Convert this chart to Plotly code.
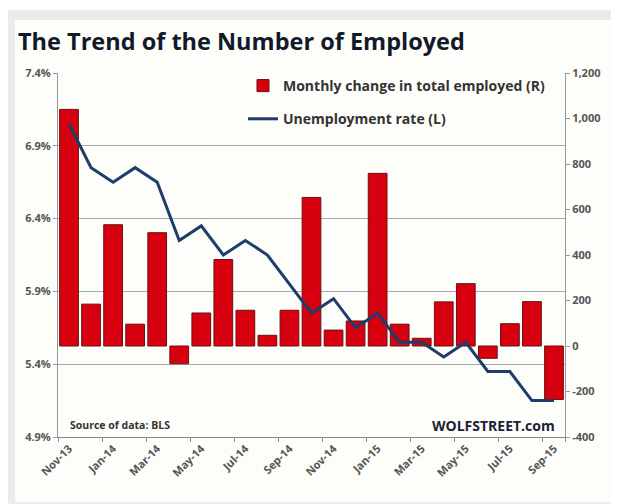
import plotly.graph_objects as go

months = ["Nov-13", "Dec-13", "Jan-14", "Feb-14", "Mar-14", "Apr-14", "May-14", "Jun-14",
          "Jul-14", "Aug-14", "Sep-14", "Oct-14", "Nov-14", "Dec-14", "Jan-15", "Feb-15",
          "Mar-15", "Apr-15", "May-15", "Jun-15", "Jul-15", "Aug-15", "Sep-15"]
employed_change = [1040, 184, 533, 96, 498, -78, 145, 380, 157, 47, 157, 653,
                   70, 110, 759, 96, 34, 194, 274, -54, 98, 195, -235]
unemployment_rate = [7.05, 6.75, 6.65, 6.75, 6.65, 6.25, 6.35, 6.15, 6.25, 6.15, 5.95, 5.75,
                     5.85, 5.65, 5.75, 5.55, 5.55, 5.45, 5.55, 5.35, 5.35, 5.15, 5.15]
tick_labels = months[::2]
left_ticks = [4.9, 5.4, 5.9, 6.4, 6.9, 7.4]
right_ticks = [-400, -200, 0, 200, 400, 600, 800, 1000, 1200]

# page body has an 8px margin; figure coordinates are offset accordingly
OFF = 8
W, H = 619, 504
FW, FH = W - OFF, H - OFF
L, R, T, B = 58, 565, 73, 437

def px(x):
    return (x - L) / (R - L)

def py(y):
    return (B - y) / (B - T)

FONT = "Open Sans"
fig = go.Figure()
fig.add_trace(go.Bar(
    x=months, y=employed_change, name="<b>Monthly change in total employed (R)</b>",
    marker=dict(color="#d7000f", line=dict(color="#6a1010", width=1)),
    yaxis="y", legendgroup="a",
))
fig.add_trace(go.Scatter(
    x=months, y=unemployment_rate, name="<b>Unemployment rate (L)</b>", mode="lines",
    line=dict(color="#1f3d6b", width=3), yaxis="y2", legendgroup="b",
))

tick_font = dict(family=FONT, size=11, color="#555")
fig.update_layout(
    width=FW, height=FH,
    margin=dict(l=L - OFF, r=W - R, t=T - OFF, b=H - B, autoexpand=False),
    paper_bgcolor="white", plot_bgcolor="rgba(0,0,0,0)",
    bargap=0.15,
    showlegend=True,
    legend=dict(x=px(243), y=py(70), xanchor="left", yanchor="top",
                bgcolor="rgba(0,0,0,0)", traceorder="grouped",
                font=dict(family=FONT, size=14, color="#333"),
                itemwidth=30, tracegroupgap=12),
    xaxis=dict(type="category", tickvals=tick_labels,
               ticktext=[f"<b>{t}</b>" for t in tick_labels],
               tickangle=-45, showline=True, linecolor="#888", linewidth=1,
               ticks="outside", tickson="boundaries", ticklen=4, tickcolor="#888",
               tickfont=dict(family=FONT, size=11, color="#555"),
               showgrid=False),
    yaxis=dict(side="right", range=[-400, 1200], tickvals=right_ticks,
               ticktext=[f"<b>{v:,}</b>" for v in right_ticks], showgrid=False,
               zeroline=False, showline=True, linecolor="#999", ticks="outside",
               ticklen=4, tickcolor="#999", tickfont=tick_font),
    yaxis2=dict(side="left", overlaying="y", range=[4.9, 7.4], tickvals=left_ticks,
                ticktext=[f"<b>{v:.1f}%</b>" for v in left_ticks],
                showgrid=True, gridcolor="#a8a8a8", gridwidth=1, zeroline=False,
                showline=True, linecolor="#999", ticks="outside", ticklen=4,
                tickcolor="#999", tickfont=tick_font),
    title=dict(text="<b>The Trend of the Number of Employed</b>", x=(18 - OFF) / FW,
               xanchor="left", y=1 - (42 - OFF) / FH, yanchor="middle",
               font=dict(family=FONT, size=23.5, color="#111a2a")),
    shapes=[
        dict(type="rect", xref="paper", yref="paper", x0=px(6), x1=px(625), y0=py(510), y1=py(10),
             fillcolor="#ebebeb", line=dict(width=0), layer="below"),
        dict(type="rect", xref="paper", yref="paper", x0=px(15), x1=px(616), y0=py(502), y1=py(20),
             fillcolor="#fdfdf9", line=dict(width=0), layer="below"),
    ],
    annotations=[
        dict(text="<b>Source of data: BLS</b>", xref="paper", yref="paper", x=px(68), y=py(425),
             xanchor="left", yanchor="middle", showarrow=False,
             font=dict(family=FONT, size=10.5, color="#333")),
        dict(text="<b>WOLFSTREET.com</b>", xref="paper", yref="paper", x=px(557), y=py(425),
             xanchor="right", yanchor="middle", showarrow=False,
             font=dict(family=FONT, size=14, color="#1a2238")),
    ],
)

fig.write_html("out.html")
